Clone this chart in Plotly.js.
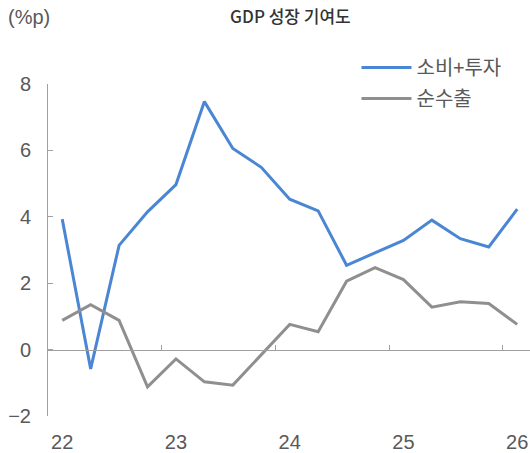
<!DOCTYPE html>
<html>
<head>
<meta charset="utf-8">
<script src="https://cdn.plot.ly/plotly-3.0.1.min.js"></script>
<style>
  html, body { margin: 0; padding: 0; background: #fff; }
  #chart { width: 530px; height: 453px; }
</style>
</head>
<body>
<div id="chart"></div>
<script>
// quarters 22Q1 .. 26Q1
var quarters = [0, 1, 2, 3, 4, 5, 6, 7, 8, 9, 10, 11, 12, 13, 14, 15, 16];
var consInv = [3.93, -0.58, 3.14, 4.15, 4.97, 7.47, 6.06, 5.49, 4.53, 4.18, 2.54, 2.92, 3.29, 3.90, 3.34, 3.09, 4.23];
var netExports = [0.88, 1.35, 0.88, -1.12, -0.28, -0.97, -1.07, -0.17, 0.76, 0.54, 2.06, 2.47, 2.11, 1.28, 1.44, 1.39, 0.76];
var yearTicks = [0, 4, 8, 12, 16];
var yearLabels = ["22", "23", "24", "25", "26"];
var yearBreaks = [3.5, 7.5, 11.5, 15.5];

var fontFam = "Liberation Sans, Noto Sans CJK KR, sans-serif";
var axisGray = "#a0a0a0";
var xRange = [-0.5, 16.45];

var data = [
  {x: quarters, y: consInv, name: "소비+투자", type: "scatter", mode: "lines",
   legendgroup: "a", line: {color: "#4a86d4", width: 3}},
  {x: quarters, y: netExports, name: "순수출", type: "scatter", mode: "lines",
   legendgroup: "b", line: {color: "#8f8f8f", width: 3}},
  // empty trace so the zero-line axis (x2) gets drawn
  {x: [], y: [], xaxis: "x2", type: "scatter", mode: "lines",
   showlegend: false, hoverinfo: "skip"}
];

var layout = {
  width: 530,
  height: 453,
  margin: {l: 48, r: 0, t: 84, b: 37},
  paper_bgcolor: "#fff",
  plot_bgcolor: "#fff",
  font: {family: fontFam, color: "#595959", size: 20},
  title: {
    text: "GDP 성장 기여도",
    font: {family: "Noto Sans CJK KR, sans-serif", size: 17, color: "#333", weight: 500},
    xref: "container", yref: "container",
    x: 0.548, xanchor: "center",
    y: 1 - 17 / 453, yanchor: "middle"
  },
  showlegend: true,
  legend: {
    x: 0.64, xanchor: "left",
    y: 1 - (48 - 84) / 332, yanchor: "top",
    font: {family: "Noto Sans CJK KR, sans-serif", size: 20, color: "#595959"},
    itemwidth: 50,
    tracegroupgap: 2,
    bgcolor: "rgba(0,0,0,0)"
  },
  xaxis: {
    range: xRange,
    tickvals: yearTicks,
    ticktext: yearLabels,
    showgrid: false,
    zeroline: false,
    showline: false,
    ticks: "",
    ticklabelstandoff: 12,
    fixedrange: true
  },
  xaxis2: {
    overlaying: "x",
    anchor: "free",
    position: 0.2,
    range: xRange,
    tickvals: yearBreaks,
    ticks: "inside",
    ticklen: 5,
    tickcolor: axisGray,
    showticklabels: false,
    showgrid: false,
    zeroline: false,
    showline: true,
    linecolor: axisGray,
    linewidth: 1
  },
  yaxis: {
    range: [-2, 8],
    tickvals: [-2, 0, 2, 4, 6, 8],
    ticktext: ["−2", "0", "2", "4", "6", "8"],
    showgrid: false,
    zeroline: false,
    showline: true,
    linecolor: axisGray,
    linewidth: 1,
    ticks: "inside",
    ticklen: 5,
    tickcolor: axisGray,
    ticklabelstandoff: 12,
    fixedrange: true
  },
  annotations: [
    {text: "(%p)", xref: "paper", yref: "paper", x: -0.088, y: (416 - 17) / 332,
     xanchor: "left", yanchor: "middle", showarrow: false,
     font: {family: fontFam, size: 20, color: "#595959"}}
  ]
};

Plotly.newPlot("chart", data, layout, {displayModeBar: false, staticPlot: true});
</script>
</body>
</html>
